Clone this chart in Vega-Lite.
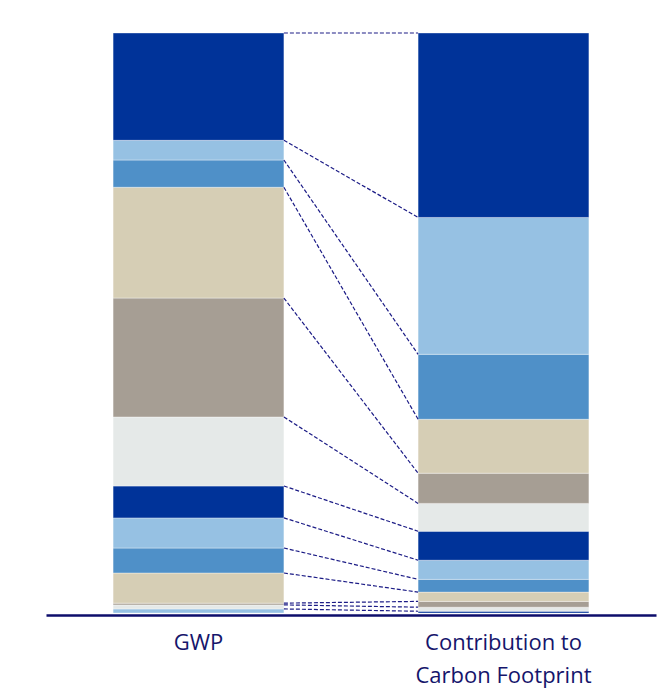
{
  "$schema": "https://vega.github.io/schema/vega-lite/v6.json",
  "width": 610,
  "height": 580,
  "autosize": {"type": "none"},
  "padding": {"left": 46, "top": 33, "right": 16, "bottom": 78},
  "background": "#ffffff",
  "config": {"view": {"stroke": null}},
  "data": {
    "values": [
      {"bar": "GWP", "seg": 1, "cat": "C", "share": 0.7},
      {"bar": "GWP", "seg": 2, "cat": "F", "share": 0.7},
      {"bar": "GWP", "seg": 3, "cat": "E", "share": 0.3},
      {"bar": "GWP", "seg": 4, "cat": "D", "share": 5.2},
      {"bar": "GWP", "seg": 5, "cat": "B", "share": 4.3},
      {"bar": "GWP", "seg": 6, "cat": "C", "share": 5.2},
      {"bar": "GWP", "seg": 7, "cat": "A", "share": 5.5},
      {"bar": "GWP", "seg": 8, "cat": "F", "share": 11.9},
      {"bar": "GWP", "seg": 9, "cat": "E", "share": 20.5},
      {"bar": "GWP", "seg": 10, "cat": "D", "share": 19.1},
      {"bar": "GWP", "seg": 11, "cat": "B", "share": 4.7},
      {"bar": "GWP", "seg": 12, "cat": "C", "share": 3.4},
      {"bar": "GWP", "seg": 13, "cat": "A", "share": 18.5},
      {"bar": "Contribution to Carbon Footprint", "seg": 1, "cat": "A", "share": 0.3},
      {"bar": "Contribution to Carbon Footprint", "seg": 2, "cat": "F", "share": 0.7},
      {"bar": "Contribution to Carbon Footprint", "seg": 3, "cat": "E", "share": 1.0},
      {"bar": "Contribution to Carbon Footprint", "seg": 4, "cat": "D", "share": 1.6},
      {"bar": "Contribution to Carbon Footprint", "seg": 5, "cat": "B", "share": 2.2},
      {"bar": "Contribution to Carbon Footprint", "seg": 6, "cat": "C", "share": 3.3},
      {"bar": "Contribution to Carbon Footprint", "seg": 7, "cat": "A", "share": 5.0},
      {"bar": "Contribution to Carbon Footprint", "seg": 8, "cat": "F", "share": 4.8},
      {"bar": "Contribution to Carbon Footprint", "seg": 9, "cat": "E", "share": 5.2},
      {"bar": "Contribution to Carbon Footprint", "seg": 10, "cat": "D", "share": 9.3},
      {"bar": "Contribution to Carbon Footprint", "seg": 11, "cat": "B", "share": 11.2},
      {"bar": "Contribution to Carbon Footprint", "seg": 12, "cat": "C", "share": 23.6},
      {"bar": "Contribution to Carbon Footprint", "seg": 13, "cat": "A", "share": 31.8}
    ]
  },
  "layer": [
    {
      "mark": {"type": "bar", "stroke": "#ffffff", "strokeWidth": 0.6, "strokeOpacity": 0.6},
      "encoding": {
        "x": {
          "field": "bar",
          "type": "nominal",
          "sort": ["GWP", "Contribution to Carbon Footprint"],
          "scale": {"paddingInner": 0.44, "paddingOuter": 0.22},
          "axis": {
            "title": null,
            "labelAngle": 0,
            "ticks": false,
            "domainColor": "#0d0d6b",
            "domainWidth": 2.5,
            "offset": 2,
            "labelPadding": 17,
            "labelFont": "Open Sans",
            "labelFontSize": 22,
            "labelColor": "#15156b",
            "labelBaseline": "top",
            "labelLineHeight": 33,
            "labelExpr": "datum.value == 'GWP' ? 'GWP' : ['Contribution to', 'Carbon Footprint']"
          }
        },
        "y": {
          "field": "share",
          "type": "quantitative",
          "stack": "zero",
          "scale": {"domain": [0, 100], "nice": false, "zero": true},
          "axis": null
        },
        "order": {"field": "seg", "type": "quantitative", "sort": "ascending"},
        "color": {
          "field": "cat",
          "type": "nominal",
          "scale": {
            "domain": ["A", "B", "C", "D", "E", "F"],
            "range": ["#003399", "#4f90c8", "#96c1e3", "#d6ceb5", "#a69e94", "#e5e9e8"]
          },
          "legend": null
        }
      }
    },
    {
      "transform": [
        {"window": [{"op": "sum", "field": "share", "as": "cum"}], "groupby": ["bar"], "sort": [{"field": "seg", "order": "ascending"}], "frame": [null, 0]},
        {"pivot": "bar", "value": "cum", "groupby": ["seg"]}
      ],
      "mark": {"type": "rule", "color": "#1c1c86", "strokeWidth": 1.2, "strokeDash": [4, 2]},
      "encoding": {
        "x": {"datum": "GWP", "type": "nominal", "bandPosition": 1},
        "x2": {"datum": "Contribution to Carbon Footprint", "bandPosition": 0},
        "y": {"field": "GWP", "type": "quantitative"},
        "y2": {"field": "Contribution to Carbon Footprint"}
      }
    }
  ]
}
